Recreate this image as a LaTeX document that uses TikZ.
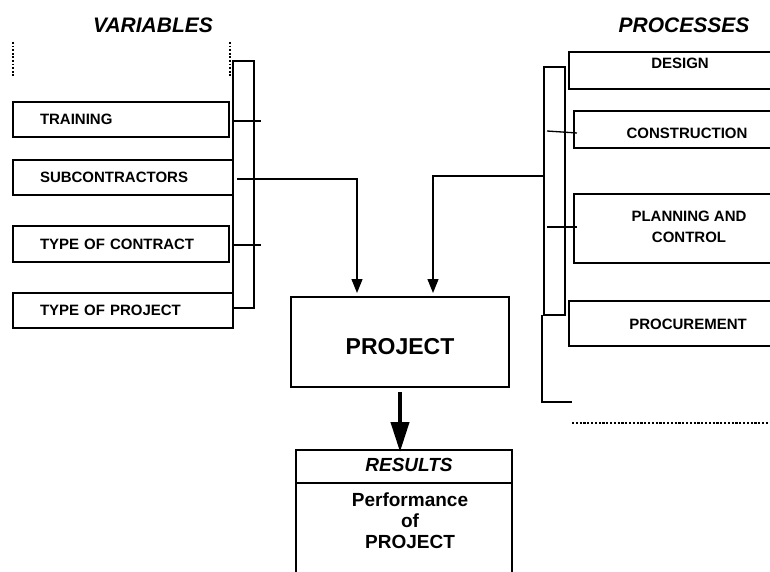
\documentclass[tikz,border=0pt]{standalone}
\usepackage{fontspec}
\setmainfont{Liberation Sans}
\usetikzlibrary{arrows.meta,calc}
\begin{document}
\begin{tikzpicture}[x=1pt,y=-1pt,
  box/.style={draw, line width=1.3pt, inner sep=0pt, outer sep=0pt},
  lbox/.style={box, anchor=north west, align=left, inner xsep=27pt, font=\bfseries\fontsize{15}{17}\selectfont},
  ebox/.style={box, anchor=north west},
  txt/.style={inner sep=0pt, align=center, font=\bfseries\fontsize{15}{21}\selectfont},
  title/.style={inner sep=0pt, font=\bfseries\itshape\fontsize{21}{24}\selectfont},
  big/.style={inner sep=0pt, align=center, font=\bfseries\fontsize{19}{21}\selectfont},
  ln/.style={line width=1.3pt},
  conn/.style={line width=1.3pt, -{Triangle[length=14pt,width=11pt]}},
  fatarrow/.style={line width=4pt, -{Triangle[length=30pt,width=18pt]}},
  dots/.style={line width=2pt, dash pattern=on 1.8pt off 1.8pt},
]
\useasboundingbox (0,0) rectangle (770,572);
\clip (0,0) rectangle (770,572);

% titles
\node[title] (vars) at (153,25) {VARIABLES};
\node[title] (procs) at (684,25) {PROCESSES};

% left side
\draw[dots] (13,42) -- (13,77);
\draw[dots] (230,42) -- (230,76);
\node[ebox, minimum width=21pt, minimum height=247pt] (lbr) at (233,61) {};
\node[lbox, text width=162pt, minimum height=35pt] (train) at (13,102) {TRAINING};
\node[lbox, text width=166pt, minimum height=35pt] (sub) at (13,160) {SUBCONTRACTORS};
\node[lbox, text width=162pt, minimum height=36pt] (contract) at (13,226) {TYPE OF CONTRACT};
\node[lbox, text width=166pt, minimum height=35pt] (ptype) at (13,293) {TYPE OF PROJECT};
\draw[ln] ($(train.east)+(3,1.5)$) -- ++(29,0);
\draw[ln] ($(contract.east)+(3,1)$) -- ++(29,0);

% right side
\node[ebox, minimum width=21pt, minimum height=248pt] (rbr) at (544,67) {};
\draw[ln] ($(rbr.south west)+(-2,0)$) -- ++(0,87) -- ++(30,0);
\draw[dots, line width=1.8pt, dash pattern=on 2.2pt off 1.6pt] (572,423) -- (770,423);
\node[ebox, minimum width=222pt, minimum height=37pt] (design) at (569,52) {};
\node[txt] (designt) at (680,63) {DESIGN};
\node[ebox, minimum width=228pt, minimum height=37pt] (constr) at (574,111) {};
\node[txt] (constrt) at (687,133) {CONSTRUCTION};
\node[ebox, minimum width=230pt, minimum height=69pt] (plan) at (574,194) {};
\node[txt] (plant) at (689,226.5) {PLANNING AND\\CONTROL};
\node[ebox, minimum width=238pt, minimum height=45pt] (procure) at (569,301) {};
\node[txt] (procuret) at (688,324) {PROCUREMENT};
\draw[ln] (547,131) -- (577,133);
\draw[ln] (547,227) -- (577,227);

% project
\node[ebox, minimum width=218pt, minimum height=90pt] (proj) at (291,297) {};
\node[inner sep=0pt, font=\bfseries\fontsize{23}{26}\selectfont] (projt) at (400,347) {PROJECT};

% connectors
\draw[conn] ($(sub.east)+(4,1.5)$) -| ($(proj.north)+(-43,-4)$);
\draw[conn] ($(rbr.north west)+(0,109)$) -| ($(proj.north)+(33,-4)$);

% results
\node[ebox, minimum width=216pt, minimum height=33pt] (res) at (296,450) {};
\node[big, font=\bfseries\itshape\fontsize{19}{21}\selectfont] (rest) at (409,465) {RESULTS};
\draw[ln] (res.south west) -- ++(0,95);
\draw[ln] (res.south east) -- ++(0,95);
\node[big] (perf) at (410,521) {Performance\\of\\PROJECT};

\draw[fatarrow] ($(proj.south)+(0,5)$) -- ($(proj.south |- res.north)+(0,2)$);
\end{tikzpicture}
\end{document}
